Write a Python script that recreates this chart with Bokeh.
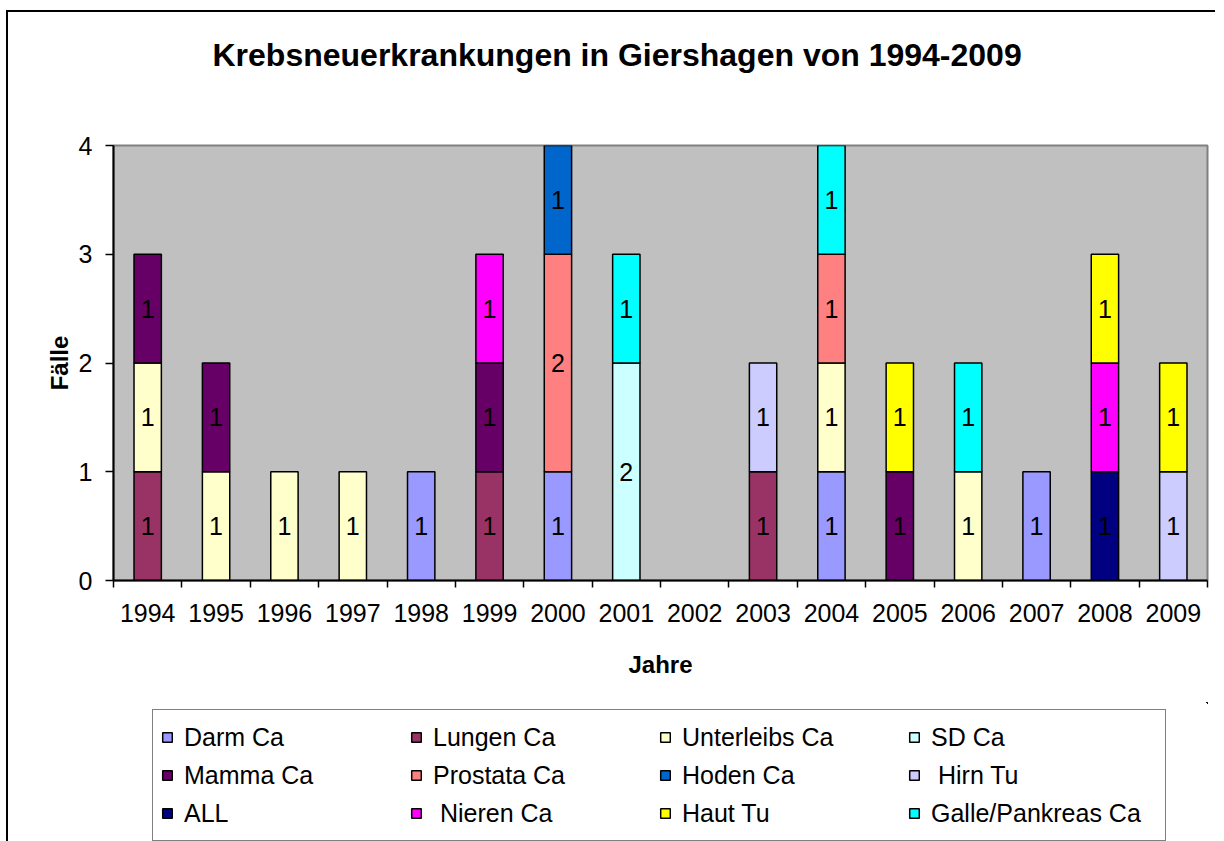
from bokeh.plotting import figure
from bokeh.layouts import column
from bokeh.models import (ColumnDataSource, FixedTicker, LinearAxis, Title,
                          Legend, LegendItem, Range1d, CustomJSTickFormatter)
from bokeh.core.properties import value
from bokeh.embed import file_html
from bokeh.resources import INLINE

# ---------------- data ----------------
years = ["1994", "1995", "1996", "1997", "1998", "1999", "2000", "2001",
         "2002", "2003", "2004", "2005", "2006", "2007", "2008", "2009"]

series_names = ["Darm Ca", "Lungen Ca", "Unterleibs Ca", "SD Ca",
                "Mamma Ca", "Prostata Ca", "Hoden Ca", " Hirn Tu",
                "ALL", " Nieren Ca", "Haut Tu", "Galle/Pankreas Ca"]

series_colors = ["#9999FF", "#993366", "#FFFFCC", "#CCFFFF",
                 "#660066", "#FF8080", "#0066CC", "#CCCCFF",
                 "#000080", "#FF00FF", "#FFFF00", "#00FFFF"]

darm       = [0, 0, 0, 0, 1, 0, 1, 0, 0, 0, 1, 0, 0, 1, 0, 0]
lungen     = [1, 0, 0, 0, 0, 1, 0, 0, 0, 1, 0, 0, 0, 0, 0, 0]
unterleibs = [1, 1, 1, 1, 0, 0, 0, 0, 0, 0, 1, 0, 1, 0, 0, 0]
sd         = [0, 0, 0, 0, 0, 0, 0, 2, 0, 0, 0, 0, 0, 0, 0, 0]
mamma      = [1, 1, 0, 0, 0, 1, 0, 0, 0, 0, 0, 1, 0, 0, 0, 0]
prostata   = [0, 0, 0, 0, 0, 0, 2, 0, 0, 0, 1, 0, 0, 0, 0, 0]
hoden      = [0, 0, 0, 0, 0, 0, 1, 0, 0, 0, 0, 0, 0, 0, 0, 0]
hirn       = [0, 0, 0, 0, 0, 0, 0, 0, 0, 1, 0, 0, 0, 0, 0, 1]
all_leuk   = [0, 0, 0, 0, 0, 0, 0, 0, 0, 0, 0, 0, 0, 0, 1, 0]
nieren     = [0, 0, 0, 0, 0, 1, 0, 0, 0, 0, 0, 0, 0, 0, 1, 0]
haut       = [0, 0, 0, 0, 0, 0, 0, 0, 0, 0, 0, 1, 0, 0, 1, 1]
galle      = [0, 0, 0, 0, 0, 0, 0, 1, 0, 0, 1, 0, 1, 0, 0, 0]

series_values = [darm, lungen, unterleibs, sd, mamma, prostata, hoden,
                 hirn, all_leuk, nieren, haut, galle]

y_ticks = [0, 1, 2, 3, 4]

title_text = "Krebsneuerkrankungen in Giershagen von 1994-2009"
x_title = "Jahre"
y_title = "Fälle"

FONT = "Liberation Sans"

# category centres / boundaries on a numeric scale
centers = [i + 0.5 for i in range(len(years))]
bounds = list(range(len(years) + 1))

# ---------------- title strip ----------------
t = figure(width=1207, height=100, title=None,
           x_range=Range1d(-2, -1), y_range=Range1d(-2, -1),
           x_axis_location=None, y_axis_location=None,
           output_backend="svg", toolbar_location=None,
           min_border_left=0, min_border_right=0,
           min_border_top=0, min_border_bottom=0)
t.background_fill_color = "white"
t.border_fill_color = "white"
t.outline_line_color = None
t.grid.visible = False
t.add_layout(Title(text=title_text, text_font=FONT, text_font_size="32px",
                   text_font_style="bold", text_color="black",
                   align="left", offset=99, standoff=45), "above")

# ---------------- main chart ----------------
p = figure(width=1207, height=590, title=None,
           x_range=Range1d(0, len(years)),
           y_range=Range1d(0, 4),
           x_axis_location=None,
           output_backend="svg", toolbar_location=None,
           min_border_left=105, min_border_right=8,
           min_border_top=33, min_border_bottom=122)

p.background_fill_color = "#C0C0C0"
p.border_fill_color = "white"
p.outline_line_color = "#808080"
p.outline_line_width = 2
p.grid.visible = False

# y axis
ya = p.yaxis[0]
ya.ticker = FixedTicker(ticks=y_ticks)
ya.axis_line_color = "black"
ya.axis_line_width = 2
ya.major_tick_line_color = "black"
ya.major_tick_line_width = 1.5
ya.major_tick_in = 0
ya.major_tick_out = 8
ya.minor_tick_line_color = None
ya.major_label_standoff = 13
ya.major_label_text_font = FONT
ya.major_label_text_font_size = "25px"
ya.major_label_text_color = "black"
ya.axis_label = y_title
ya.axis_label_text_font = FONT
ya.axis_label_text_font_size = "24px"
ya.axis_label_text_font_style = "bold"
ya.axis_label_text_color = "black"
ya.axis_label_standoff = 3

# x axis: labels at category centres, small tick marks at category boundaries
xa = LinearAxis(ticker=FixedTicker(ticks=centers, minor_ticks=bounds),
                formatter=CustomJSTickFormatter(
                    args=dict(labels=years),
                    code="return labels[Math.floor(tick)] || '';"),
                axis_line_color="black", axis_line_width=2,
                major_tick_line_color=None,
                major_tick_in=0, major_tick_out=0,
                minor_tick_line_color="black", minor_tick_line_width=1.5,
                minor_tick_in=0, minor_tick_out=7,
                major_label_standoff=16,
                major_label_text_font=FONT,
                major_label_text_font_size="25px",
                major_label_text_color="black",
                axis_label=x_title,
                axis_label_text_font=FONT,
                axis_label_text_font_size="24px",
                axis_label_text_font_style="bold",
                axis_label_text_color="black",
                axis_label_standoff=26)
p.add_layout(xa, "below")

# ---------------- stacked bars ----------------
bottoms = [0] * len(years)
label_x, label_y, label_t = [], [], []
series_sources = []
for name, color, vals in zip(series_names, series_colors, series_values):
    xs, bs, ts = [], [], []
    for i, v in enumerate(vals):
        if v > 0:
            xs.append(centers[i])
            bs.append(bottoms[i])
            ts.append(bottoms[i] + v)
            label_x.append(centers[i])
            label_y.append(bottoms[i] + v / 2)
            label_t.append(str(v))
            bottoms[i] += v
    src = ColumnDataSource(dict(x=xs, bottom=bs, top=ts))
    series_sources.append(src)
    p.vbar(x="x", bottom="bottom", top="top", width=0.4, source=src,
           fill_color=color, line_color="black", line_width=1.5)

lab_src = ColumnDataSource(dict(x=label_x, y=label_y, t=label_t))
p.text(x="x", y="y", text="t", source=lab_src,
       text_font=value(FONT), text_font_size="25px", text_color="black",
       text_align="center", text_baseline="middle")

# ---------------- legend strip ----------------
# the same series glyphs, viewed through an empty window so only the legend shows
q = figure(width=1207, height=139,
           x_range=Range1d(-2, -1), y_range=Range1d(-2, -1),
           x_axis_location=None, y_axis_location=None,
           output_backend="svg", toolbar_location=None,
           min_border_left=0, min_border_right=0,
           min_border_top=0, min_border_bottom=0)
q.background_fill_color = "white"
q.border_fill_color = "white"
q.outline_line_color = None
q.grid.visible = False

items = []
for name, color, src in zip(series_names, series_colors, series_sources):
    r = q.vbar(x="x", bottom="bottom", top="top", width=0.4, source=src,
               fill_color=color, line_color="black", line_width=1.5)
    items.append(LegendItem(label=name, renderers=[r]))

legend = Legend(items=items, orientation="horizontal", ncols=4,
                location=(39, 0),
                glyph_width=12, glyph_height=12,
                label_standoff=11, label_width=226, label_height=38,
                spacing=0, padding=8, margin=0,
                label_text_font=FONT, label_text_font_size="25px",
                label_text_color="black",
                border_line_color="black", border_line_width=1.5,
                background_fill_color="white", background_fill_alpha=1)
q.add_layout(legend, "center")

layout = column(t, p, q, spacing=0)
layout.styles = {"border-top": "2px solid #000000", "border-left": "2px solid #000000",
                 "margin-top": "10px", "margin-left": "6px"}

open("out.html", "w").write(file_html(layout, INLINE))
